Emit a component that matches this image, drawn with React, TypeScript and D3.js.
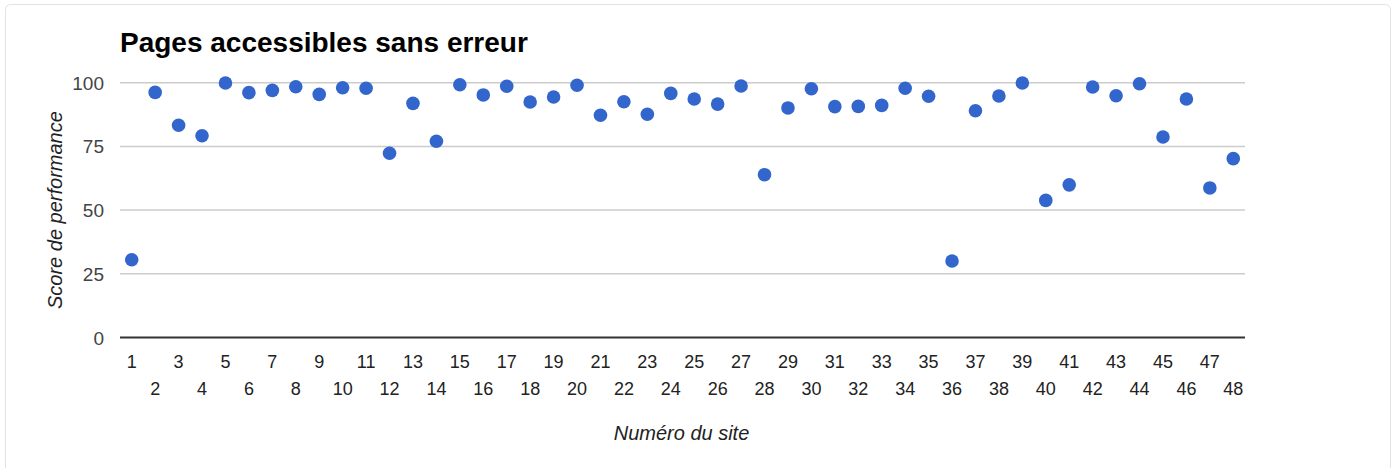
import React, { useRef, useEffect } from "react";
import * as d3 from "d3";

// site numbers 1..48 and their scores
const sites = [
  1, 2, 3, 4, 5, 6, 7, 8, 9, 10, 11, 12, 13, 14, 15, 16, 17, 18, 19, 20, 21, 22, 23, 24,
  25, 26, 27, 28, 29, 30, 31, 32, 33, 34, 35, 36, 37, 38, 39, 40, 41, 42, 43, 44, 45, 46, 47, 48,
];
const scores = [
  30.5, 96.2, 83.3, 79.2, 99.9, 96.1, 97.0, 98.4, 95.4, 98.0, 97.8, 72.3, 91.9, 77.0, 99.2, 95.2,
  98.6, 92.4, 94.4, 99.0, 87.2, 92.5, 87.6, 95.8, 93.6, 91.6, 98.7, 63.9, 90.1, 97.6, 90.6, 90.7,
  91.1, 97.8, 94.7, 30.0, 89.0, 94.8, 99.9, 53.8, 59.9, 98.3, 94.9, 99.6, 78.7, 93.6, 58.7, 70.2,
];
const yTicks = [0, 25, 50, 75, 100];

const title = "Pages accessibles sans erreur";
const xTitle = "Numéro du site";
const yTitle = "Score de performance";

const W = 1396;
const H = 468;
const font = "Arial, 'Liberation Sans', sans-serif";

export default function App() {
  const svgRef = useRef<SVGSVGElement>(null);

  useEffect(() => {
    const svg = d3.select(svgRef.current);
    svg.selectAll("*").remove();

    const left = 120, right = 1245, top = 82.7, bottom = 337.5;

    const x = d3.scaleBand<number>().domain(sites).range([left, right]);
    const y = d3.scaleLinear().domain([0, 100]).range([bottom, top]);

    // card
    svg.append("rect")
      .attr("x", 5.5).attr("y", 4.5)
      .attr("width", 1385).attr("height", 480)
      .attr("rx", 5)
      .attr("fill", "#fff")
      .attr("stroke", "#e2e2e2");

    svg.append("text")
      .attr("x", left).attr("y", 52)
      .attr("font-family", font)
      .attr("font-size", 28)
      .attr("font-weight", "bold")
      .attr("fill", "#000")
      .text(title);

    // gridlines
    svg.selectAll(".grid")
      .data(yTicks.filter(t => t !== 0))
      .join("line")
      .attr("class", "grid")
      .attr("x1", left).attr("x2", right)
      .attr("y1", d => y(d)).attr("y2", d => y(d))
      .attr("stroke", "#cccccc")
      .attr("stroke-width", 1.5);

    svg.append("line")
      .attr("x1", left).attr("x2", right)
      .attr("y1", y(0)).attr("y2", y(0))
      .attr("stroke", "#333")
      .attr("stroke-width", 2);

    svg.selectAll(".ytick")
      .data(yTicks)
      .join("text")
      .attr("class", "ytick")
      .attr("x", 104)
      .attr("y", d => y(d) + 7)
      .attr("text-anchor", "end")
      .attr("font-family", font)
      .attr("font-size", 19)
      .attr("fill", "#444")
      .text(d => d);

    svg.selectAll(".xtick")
      .data(sites)
      .join("text")
      .attr("class", "xtick")
      .attr("x", d => x(d)! + x.bandwidth() / 2)
      .attr("y", d => (d % 2 === 1 ? 368 : 395))
      .attr("text-anchor", "middle")
      .attr("font-family", font)
      .attr("font-size", 18)
      .attr("fill", "#222")
      .text(d => d);

    svg.append("text")
      .attr("x", (left + right) / 2 - 1)
      .attr("y", 440)
      .attr("text-anchor", "middle")
      .attr("font-family", font)
      .attr("font-size", 20)
      .attr("font-style", "italic")
      .attr("fill", "#222")
      .text(xTitle);

    svg.append("text")
      .attr("transform", `translate(62, ${(top + bottom) / 2}) rotate(-90)`)
      .attr("text-anchor", "middle")
      .attr("font-family", font)
      .attr("font-size", 20)
      .attr("font-style", "italic")
      .attr("fill", "#222")
      .text(yTitle);

    svg.selectAll(".dot")
      .data(sites)
      .join("circle")
      .attr("class", "dot")
      .attr("cx", d => x(d)! + x.bandwidth() / 2)
      .attr("cy", (d, i) => y(scores[i]))
      .attr("r", 6.8)
      .attr("fill", "#3366cc");
  }, []);

  return (
    <div style={{ position: "absolute", left: 0, top: 0 }}>
      <svg ref={svgRef} width={W} height={H} style={{ display: "block" }}></svg>
    </div>
  );
}
